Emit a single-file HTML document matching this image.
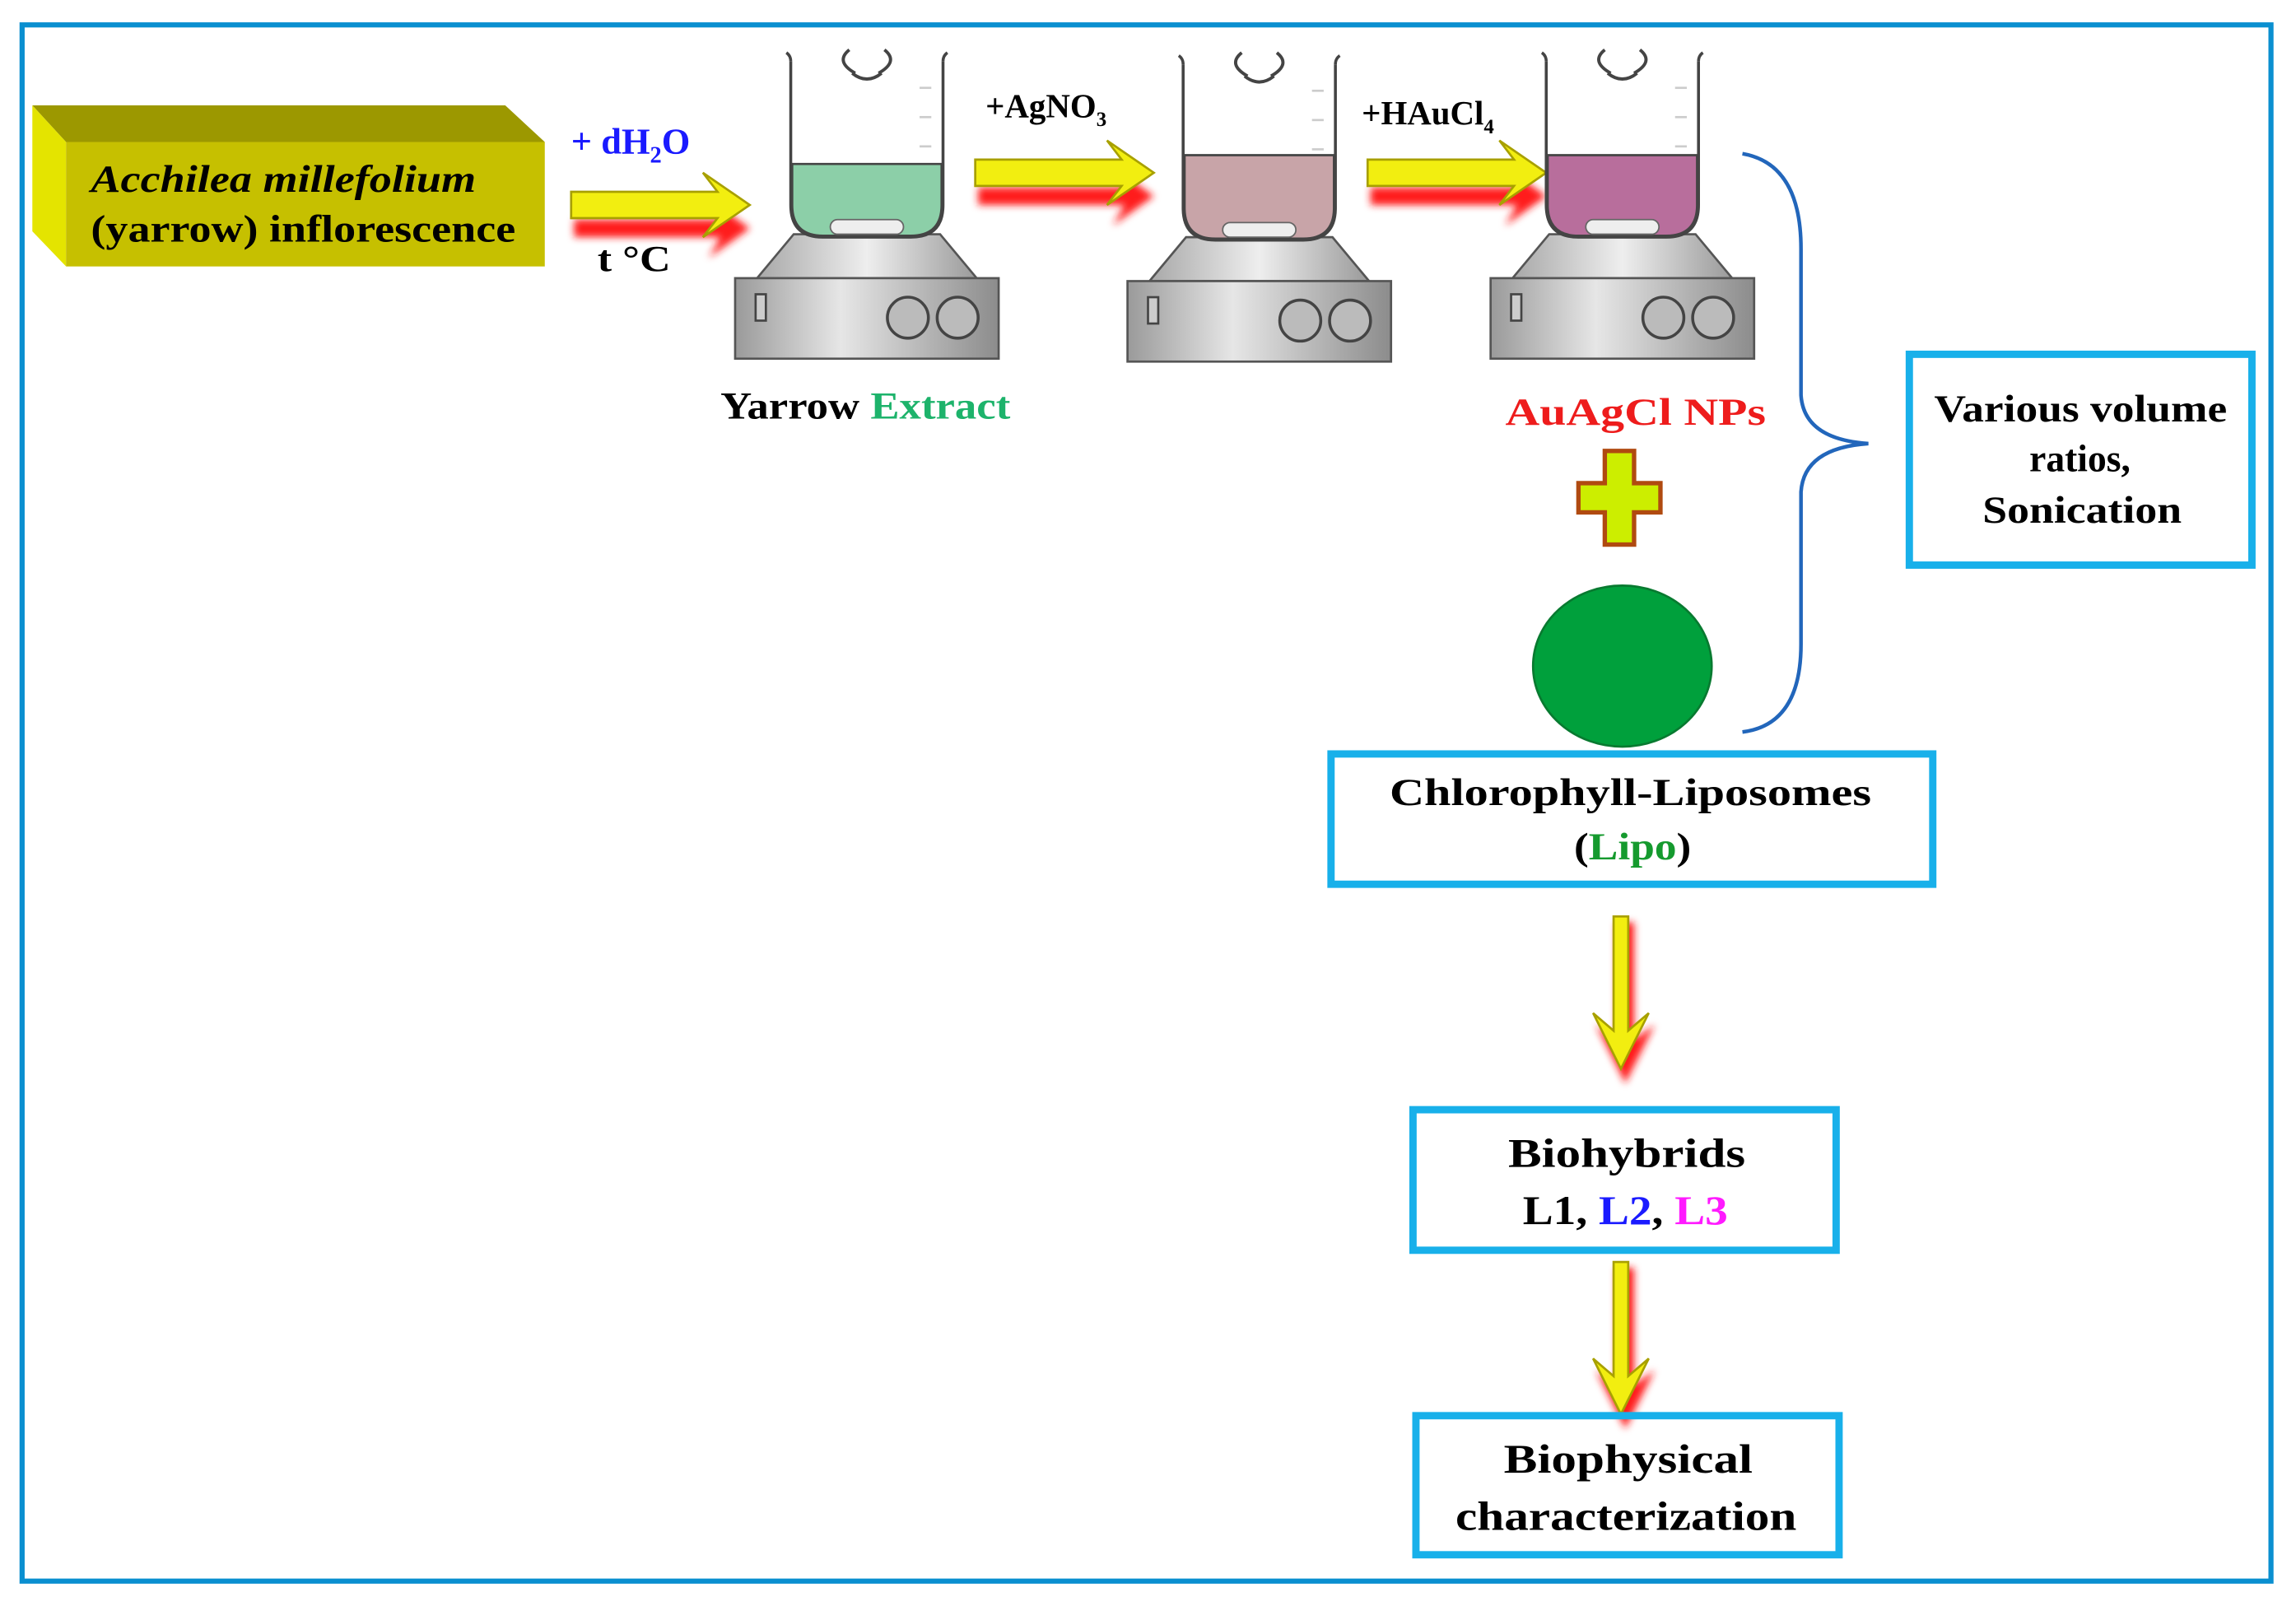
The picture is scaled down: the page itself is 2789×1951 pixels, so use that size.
<!DOCTYPE html>
<html><head><meta charset="utf-8"><style>
html,body{margin:0;padding:0;background:#fff;}
svg{display:block;}
text{font-family:"Liberation Serif",serif;font-weight:bold;}
</style></head><body>
<svg width="2789" height="1951" viewBox="0 0 1568 1097" xmlns="http://www.w3.org/2000/svg">
<defs>
<filter id="bl" x="-20%" y="-50%" width="140%" height="200%"><feGaussianBlur stdDeviation="2.5"/></filter>
<linearGradient id="base" x1="0" y1="0" x2="1" y2="0">
<stop offset="0" stop-color="#9a9a9a"/><stop offset="0.4" stop-color="#e6e6e6"/><stop offset="1" stop-color="#8c8c8c"/></linearGradient>
<linearGradient id="pad" x1="0" y1="0" x2="1" y2="0">
<stop offset="0" stop-color="#a8a8a8"/><stop offset="0.5" stop-color="#eeeeee"/><stop offset="1" stop-color="#9a9a9a"/></linearGradient>
<g id="harr">
<path d="M0,8 L100,8 L92,-6 L120,14 L92,34 L100,20 L0,20 Z" fill="#ff1a1a" filter="url(#bl)" transform="translate(2,6)"/>
<path d="M0,-5 L100,-5 L90,-18 L122,4 L90,26 L100,13 L0,13 Z" fill="#f2ee10" stroke="#a8a000" stroke-width="1.5"/>
</g>
<g id="varr">
<path d="M-6,0 L-6,80 L-20,70 L0,110 L20,70 L6,80 L6,0 Z" fill="#ff1a1a" filter="url(#bl)" transform="translate(3,4)"/>
<path d="M-5,0 L-5,78 L-19,66 L0,104 L19,66 L5,78 L5,0 Z" fill="#f2ee10" stroke="#a8a000" stroke-width="1.5"/>
</g>
<g id="stir">
<path d="M-50,160 L50,160 L75,190 L-75,190 Z" fill="url(#pad)" stroke="#555" stroke-width="1.5"/>
<rect x="-90" y="190" width="180" height="55" fill="url(#base)" stroke="#555" stroke-width="1.5"/>
<rect x="-76" y="201" width="7" height="18" fill="#ccc" stroke="#444" stroke-width="1.5"/>
<circle cx="28" cy="217" r="14" fill="#bbb" stroke="#444" stroke-width="2"/>
<circle cx="62" cy="217" r="14" fill="#bbb" stroke="#444" stroke-width="2"/>
<path d="M-52,42 L-52,140 Q-52,162 -30,162 L30,162 Q52,162 52,140 L52,42" fill="#fff" stroke="#444" stroke-width="2"/>
<path d="M-52,42 q0,-4 -3,-6 M52,42 q0,-4 3,-6" fill="none" stroke="#444" stroke-width="2"/>
<line x1="36" y1="60" x2="44" y2="60" stroke="#ccc" stroke-width="1.5"/>
<line x1="36" y1="80" x2="44" y2="80" stroke="#ccc" stroke-width="1.5"/>
<line x1="36" y1="100" x2="44" y2="100" stroke="#ccc" stroke-width="1.5"/>
</g>
<g id="swirl">
<path d="M-8,50 q-14,-8 -4,-16 M8,50 q14,-8 4,-16 M-10,50 q10,8 20,0" fill="none" stroke="#444" stroke-width="2.2"/>
</g>
</defs>

<rect x="15" y="17" width="1536" height="1063" fill="none" stroke="#0a8fd0" stroke-width="3.5"/>

<path d="M22,72 L345,72 L372,97 L45,97 Z" fill="#9c9800"/>
<path d="M22,72 L45,97 L45,182 L22,158 Z" fill="#e4e400"/>
<rect x="45" y="97" width="327" height="85" fill="#c6c000"/>
<text x="62" y="131" font-size="26" font-style="italic" textLength="263" lengthAdjust="spacingAndGlyphs">Acchilea millefolium</text>
<text x="62" y="165" font-size="26" textLength="290" lengthAdjust="spacingAndGlyphs">(yarrow) inflorescence</text>

<text x="390" y="105" font-size="25" fill="#1a1aff">+ dH<tspan font-size="16" dy="6">2</tspan><tspan dy="-6">O</tspan></text>
<text x="408" y="185" font-size="25" textLength="50" lengthAdjust="spacingAndGlyphs">t °C</text>
<use href="#harr" x="390" y="136"/>
<use href="#harr" x="666" y="114"/>
<use href="#harr" x="934" y="114"/>
<text x="673" y="80" font-size="23">+AgNO<tspan font-size="14" dy="6">3</tspan></text>
<text x="930" y="85" font-size="23">+HAuCl<tspan font-size="14" dy="6">4</tspan></text>

<g transform="translate(592,0)"><use href="#stir"/><use href="#swirl"/><path d="M-51,112 L51,112 L51,140 Q51,161 30,161 L-30,161 Q-51,161 -51,140 Z" fill="#8ccfa8" stroke="#444" stroke-width="1.5"/><rect x="-25" y="150" width="50" height="10" rx="5" fill="#eee" stroke="#666"/></g>
<g transform="translate(860,2)"><use href="#stir"/><use href="#swirl"/><path d="M-51,104 L51,104 L51,140 Q51,161 30,161 L-30,161 Q-51,161 -51,140 Z" fill="#c8a4a8" stroke="#444" stroke-width="1.5"/><rect x="-25" y="150" width="50" height="10" rx="5" fill="#eee" stroke="#666"/></g>
<g transform="translate(1108,0)"><use href="#stir"/><use href="#swirl"/><path d="M-51,106 L51,106 L51,140 Q51,161 30,161 L-30,161 Q-51,161 -51,140 Z" fill="#b86e9c" stroke="#444" stroke-width="1.5"/><rect x="-25" y="150" width="50" height="10" rx="5" fill="#eee" stroke="#666"/></g>

<text x="492" y="286" font-size="26" textLength="198" lengthAdjust="spacingAndGlyphs">Yarrow <tspan fill="#1db36b">Extract</tspan></text>
<text x="1028" y="290" font-size="26" fill="#ee1c1c" textLength="178" lengthAdjust="spacingAndGlyphs">AuAgCl NPs</text>

<path d="M1096,308 L1116,308 L1116,330 L1134,330 L1134,350 L1116,350 L1116,372 L1096,372 L1096,350 L1078,350 L1078,330 L1096,330 Z" fill="#ccee00" stroke="#b04a10" stroke-width="3"/>
<ellipse cx="1108" cy="455" rx="61" ry="55" fill="#00a03c" stroke="#087a30" stroke-width="1.5"/>

<path d="M1190,105 Q1230,112 1230,170 L1230,270 Q1232,300 1276,303 Q1232,306 1230,336 L1230,440 Q1230,495 1190,500" fill="none" stroke="#2266bb" stroke-width="2.5"/>

<rect x="1304" y="242" width="234" height="144" fill="none" stroke="#18b0ea" stroke-width="5"/>
<text x="1321" y="288" font-size="26" textLength="200" lengthAdjust="spacingAndGlyphs">Various volume</text>
<text x="1386" y="322" font-size="26" textLength="69" lengthAdjust="spacingAndGlyphs">ratios,</text>
<text x="1354" y="357" font-size="26" textLength="136" lengthAdjust="spacingAndGlyphs">Sonication</text>

<rect x="909" y="515" width="411" height="89" fill="none" stroke="#18b0ea" stroke-width="5"/>
<text x="949" y="550" font-size="26" textLength="329" lengthAdjust="spacingAndGlyphs">Chlorophyll-Liposomes</text>
<text x="1075" y="587" font-size="26" textLength="80" lengthAdjust="spacingAndGlyphs">(<tspan fill="#159a2e">Lipo</tspan>)</text>

<use href="#varr" x="1107" y="626"/>

<rect x="965" y="758" width="289" height="96" fill="none" stroke="#18b0ea" stroke-width="5"/>
<text x="1030" y="797" font-size="28" textLength="162" lengthAdjust="spacingAndGlyphs">Biohybrids</text>
<text x="1040" y="836" font-size="28" textLength="140" lengthAdjust="spacingAndGlyphs">L1, <tspan fill="#1a1aff">L2</tspan>, <tspan fill="#ff1aff">L3</tspan></text>

<use href="#varr" x="1107" y="862"/>

<rect x="967" y="967" width="289" height="95" fill="none" stroke="#18b0ea" stroke-width="5"/>
<text x="1027" y="1006" font-size="28" textLength="170" lengthAdjust="spacingAndGlyphs">Biophysical</text>
<text x="994" y="1045" font-size="28" textLength="233" lengthAdjust="spacingAndGlyphs">characterization</text>
</svg>
</body></html>
